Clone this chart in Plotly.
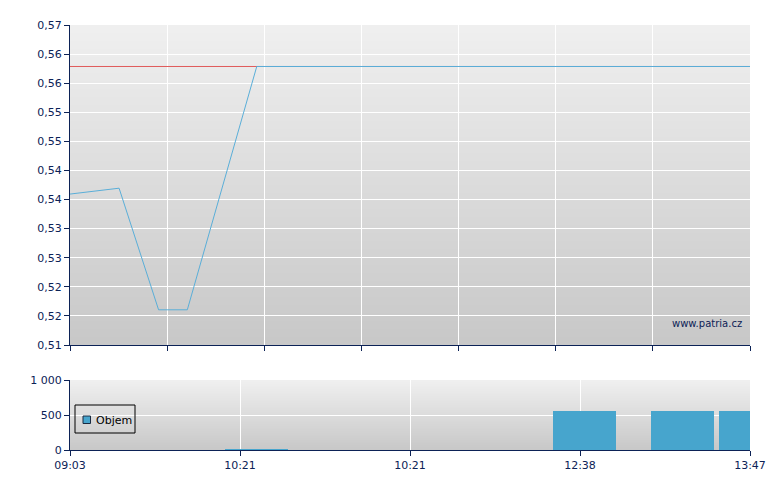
import plotly.graph_objects as go
import pandas as pd
import numpy as np

DAY = "2024-01-01 "
# price series
price_times = ["09:03", "09:23:30", "09:40", "09:52", "10:21", "13:47"]
price_values = [0.5383, 0.5394, 0.5166, 0.5166, 0.56222, 0.56222]
# reference (previous close)
ref_times = ["09:03", "13:47"]
ref_values = [0.56222, 0.56222]
# volume
vol_times = ["10:21", "12:38", "13:19", "13:47"]
vol_values = [12, 560, 560, 560]
# axis labels
bottom_tick_labels = ["09:03", "10:21", "10:21", "12:38", "13:47"]
vol_tick_vals = [0, 500, 1000]
vol_tick_text = ["0", "500", "1 000"]

NAVY = "#0c2256"
FONT = "DejaVu Sans"
BAR_COLOR = "#47a5cd"

t0 = pd.Timestamp(DAY + "09:03")
t1 = pd.Timestamp(DAY + "13:47")

def ts(lst):
    return [pd.Timestamp(DAY + t) for t in lst]

fig = go.Figure()
fig.add_trace(go.Scatter(x=ts(ref_times), y=ref_values, mode="lines",
                         line=dict(color="#e05c5c", width=1), showlegend=False,
                         xaxis="x", yaxis="y"))
fig.add_trace(go.Scatter(x=ts(price_times), y=price_values, mode="lines",
                         line=dict(color="#5aaed8", width=1), showlegend=False,
                         xaxis="x", yaxis="y"))
fig.add_trace(go.Bar(x=ts(vol_times), y=vol_values, name="Objem",
                     marker=dict(color=BAR_COLOR, line=dict(width=0)),
                     width=26.3 * 60000, xaxis="x2", yaxis="y2", showlegend=False))

top_ticks = pd.date_range(t0, t1, periods=8)
bot_ticks = pd.date_range(t0, t1, periods=5)
ymin, ymax = 0.51, 0.57
yt = np.linspace(ymin, ymax, 12)
ytext = [f"{v:.2f}".replace(".", ",") for v in yt]

H = 425.0
W = 680.0
top_dom = [(450 - 345) / H, 1.0]
bot_dom = [0.0, 70 / H]

axis_common = dict(showline=True, linecolor=NAVY, linewidth=1, ticks="outside",
                   tickcolor=NAVY, ticklen=5, gridcolor="white", gridwidth=1,
                   zeroline=False, automargin=False,
                   tickfont=dict(family=FONT, size=11, color=NAVY))

# page body has an 8px default margin -> compensate
fig.update_layout(
    width=780, height=490,
    margin=dict(l=62, r=38, t=17, b=48, autoexpand=False),
    paper_bgcolor="white", plot_bgcolor="rgba(0,0,0,0)",
    font=dict(family=FONT, size=11, color=NAVY),
    xaxis=dict(domain=[0, 1], range=[t0, t1], tickmode="array", tickvals=list(top_ticks),
               showticklabels=False, anchor="y", **axis_common),
    yaxis=dict(domain=top_dom, range=[ymin, ymax], tickmode="array", tickvals=list(yt),
               ticktext=ytext, anchor="x", **axis_common),
    xaxis2=dict(domain=[0, 1], range=[t0, t1], tickmode="array", tickvals=list(bot_ticks),
                ticktext=bottom_tick_labels, anchor="y2", **axis_common),
    yaxis2=dict(domain=bot_dom, range=[0, 1000], tickmode="array", tickvals=vol_tick_vals,
                ticktext=vol_tick_text, anchor="x2", **axis_common),
    showlegend=False,
    bargap=0,
    hovermode=False,
)

# gradient backgrounds
shapes = []
N = 40
for (xr, yr) in [("x domain", "y domain"), ("x2 domain", "y2 domain")]:
    for i in range(N):
        f = i / (N - 1)
        c = int(round(239 - (239 - 200) * f))
        y1 = 1 - i / N
        y0 = max(0.0, 1 - (i + 1) / N - 0.02)
        shapes.append(dict(type="rect", xref=xr, yref=yr, x0=0, x1=1,
                           y0=y0, y1=y1, layer="below",
                           line=dict(width=0), fillcolor=f"rgb({c},{c},{c})"))

# custom legend box (window pixel -> paper coords of plot area)
def px(x):
    return (x - 70) / W

def py(y):
    return (450 - y) / H

shapes.append(dict(type="rect", xref="paper", yref="paper", x0=px(75), x1=px(135),
                   y0=py(433), y1=py(405), layer="above",
                   line=dict(color="black", width=1), fillcolor="rgba(0,0,0,0)"))
shapes.append(dict(type="rect", xref="paper", yref="paper", x0=px(83), x1=px(90.5),
                   y0=py(423.5), y1=py(416), layer="above",
                   line=dict(color="#1a2a40", width=1), fillcolor=BAR_COLOR))
fig.update_layout(shapes=shapes)

fig.add_annotation(text="Objem", xref="paper", yref="paper", x=px(93.5), y=py(420),
                   xanchor="left", yanchor="middle", showarrow=False,
                   font=dict(family=FONT, size=11, color="black"))

fig.add_annotation(text="www.patria.cz", xref="paper", yref="paper", x=px(744), y=py(323),
                   xanchor="right", yanchor="middle", showarrow=False,
                   font=dict(family=FONT, size=10, color=NAVY))

fig.write_html("out.html")
